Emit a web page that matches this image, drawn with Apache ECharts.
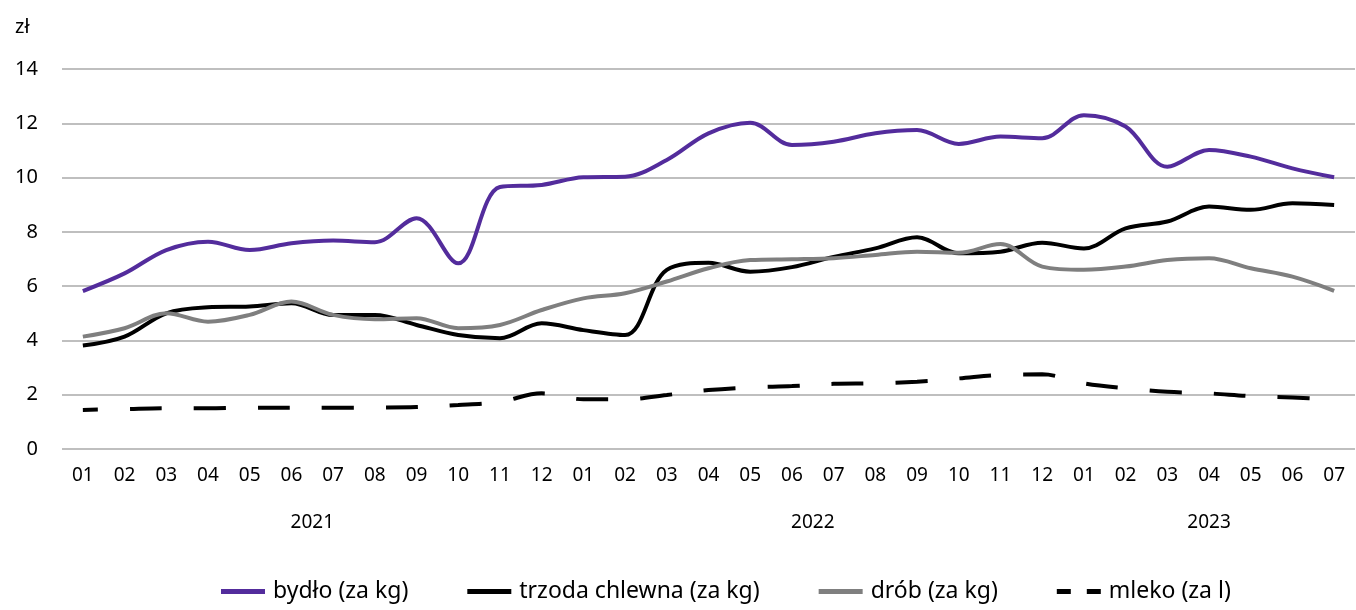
<!DOCTYPE html>
<html>
<head>
<meta charset="utf-8">
<script src="https://cdn.jsdelivr.net/npm/echarts@6/dist/echarts.min.js"></script>
<style>
html,body{margin:0;padding:0;background:#fff;}
#chart{width:1356px;height:610px;}
</style>
</head>
<body>
<div id="chart"></div>
<script>
const months = ['01','02','03','04','05','06','07','08','09','10','11','12',
                '01','02','03','04','05','06','07','08','09','10','11','12',
                '01','02','03','04','05','06','07'];
const years = ['2021','2022','2023'];
const yearCenters = [5.5, 17.5, 27];

const bydlo = [5.82,6.47,7.33,7.64,7.33,7.58,7.68,7.62,8.5,6.84,9.65,9.73,
               10.01,10.03,10.65,11.63,12.02,11.2,11.32,11.63,11.75,11.24,11.51,11.45,
               12.3,11.88,10.4,11.02,10.77,10.34,10.01];
const trzoda = [3.81,4.14,5.0,5.22,5.25,5.37,4.94,4.94,4.57,4.2,4.08,4.63,
                4.38,4.2,6.6,6.86,6.53,6.7,7.08,7.39,7.8,7.21,7.27,7.6,
                7.39,8.13,8.38,8.93,8.81,9.05,8.99];
const drob = [4.14,4.45,5.0,4.69,4.94,5.43,4.94,4.78,4.82,4.45,4.57,5.12,
              5.55,5.74,6.17,6.66,6.96,6.99,7.03,7.15,7.27,7.23,7.55,6.72,
              6.6,6.72,6.96,7.03,6.66,6.35,5.83];
const mleko = [1.44,1.47,1.5,1.5,1.52,1.52,1.52,1.53,1.55,1.62,1.74,2.05,
               1.83,1.83,1.99,2.17,2.27,2.32,2.4,2.42,2.48,2.6,2.73,2.75,
               2.42,2.24,2.11,2.05,1.95,1.9,1.83];

const font = 'Noto Sans';
let myChart = echarts.init(document.getElementById('chart'));

function lineSeries(name, data, color, type){
    return {
        name: name,
        type: 'line',
        data: data,
        smooth: 0.35,
        symbol: 'none',
        lineStyle: { color: color, width: 4, type: type || 'solid', dashOffset: 17, cap: 'butt' },
        itemStyle: { color: color }
    };
}

const option = {
    animation: false,
    title: {
        text: 'zł',
        left: 10,
        top: 12,
        textStyle: { fontFamily: font, fontSize: 20, fontWeight: 'normal', color: '#000' }
    },
    grid: { left: 62, right: 1, top: 69, bottom: 161, containLabel: false },
    xAxis: [
        {
            type: 'category',
            data: months,
            boundaryGap: true,
            axisLine: { show: false },
            axisTick: { show: false },
            axisLabel: { fontFamily: font, fontSize: 19, color: '#000', margin: 17, interval: 0 }
        },
        {
            type: 'value',
            min: -0.5,
            max: 30.5,
            position: 'bottom',
            offset: 47,
            axisLine: { show: false },
            axisTick: { show: false },
            splitLine: { show: false },
            axisLabel: {
                fontFamily: font, fontSize: 19, color: '#000', margin: 17,
                customValues: yearCenters,
                formatter: function (v) {
                    let k = yearCenters.indexOf(v);
                    return k >= 0 ? years[k] : '';
                }
            }
        }
    ],
    yAxis: {
        type: 'value',
        min: 0,
        max: 14,
        interval: 2,
        axisLine: { show: false },
        axisTick: { show: false },
        axisLabel: { fontFamily: font, fontSize: 20, color: '#000', margin: 24 },
        splitLine: { lineStyle: { color: '#bfbfbf', width: 2 } }
    },
    legend: {
        bottom: 2,
        left: 216,
        itemWidth: 44,
        itemHeight: 5,
        itemGap: 59,
        textStyle: { fontFamily: font, fontSize: 23, color: '#000', padding: [0, 0, 0, 3] },
        data: [
            { name: 'bydło (za kg)', icon: 'rect' },
            { name: 'trzoda chlewna (za kg)', icon: 'rect' },
            { name: 'drób (za kg)', icon: 'rect' },
            { name: 'mleko (za l)', icon: 'path://M0,0h14v5h-14z M30,0h14v5h-14z' }
        ]
    },
    series: [
        lineSeries('bydło (za kg)', bydlo, '#532c9c'),
        lineSeries('trzoda chlewna (za kg)', trzoda, '#000000'),
        lineSeries('drób (za kg)', drob, '#7f7f7f'),
        lineSeries('mleko (za l)', mleko, '#000000', [32, 32])
    ]
};
myChart.setOption(option);
</script>
</body>
</html>
